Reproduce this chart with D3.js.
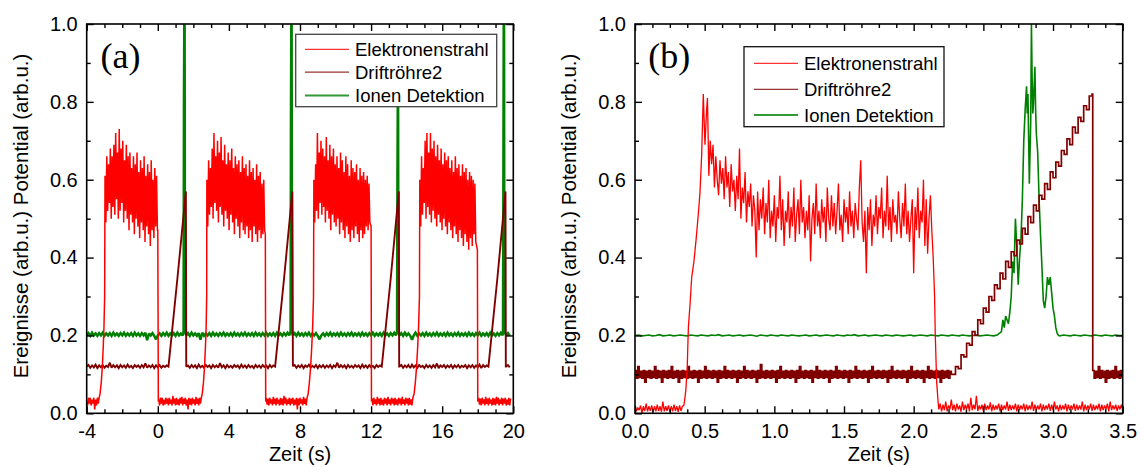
<!DOCTYPE html>
<html>
<head>
<meta charset="utf-8">
<script src="https://cdn.jsdelivr.net/npm/d3@7"></script>
<style>
  body { margin: 0; background: #fff; }
  text { font-family: "Liberation Sans", Arial, Helvetica, sans-serif; fill: #000; }
</style>
</head>
<body>
<svg id="chart" width="1141" height="467"></svg>
<script>
// ---------------------------------------------------------------
// Series names and tick values
// ---------------------------------------------------------------
const seriesNames = ["Elektronenstrahl", "Driftröhre2", "Ionen Detektion"];

const yTickVals  = [0, 0.2, 0.4, 0.6, 0.8, 1.0];
const yMinorVals = [0.1, 0.3, 0.5, 0.7, 0.9];
const aXTickVals  = [-4, 0, 4, 8, 12, 16, 20];
const aXMinorVals = [-3, -2, -1, 1, 2, 3, 5, 6, 7, 9, 10, 11, 13, 14, 15, 17, 18, 19];
const bXTickVals  = [0, 0.5, 1.0, 1.5, 2.0, 2.5, 3.0, 3.5];
const bXMinorVals = [0.125, 0.25, 0.375, 0.625, 0.75, 0.875, 1.125, 1.25, 1.375,
                     1.625, 1.75, 1.875, 2.125, 2.25, 2.375, 2.625, 2.75, 2.875,
                     3.125, 3.25, 3.375];

// ---------------------------------------------------------------
// Panel (a): repeated cycles, time -4 .. 20 s
// ---------------------------------------------------------------
// Elektronenstrahl: low level between pulses (sampled every 0.05 s)
const aElekLow1 = [0.03,0.02,0.04,0.025,0.04,0.02,0.035,0.025,0.04,0.01,0.035,0.02,0.04,0.025,0.04];
const aElekLow2 = [
  0.035,0.02,0.04,0.025,0.04,0.02,0.035,0.022,0.04,0.025,
  0.038,0.02,0.04,0.024,0.035,0.02,0.045,0.025,0.038,0.02,
  0.04,0.022,0.036,0.02,0.04,0.025,0.042,0.02,0.038,0.024,
  0.04,0.02,0.035,0.01,0.04,0.022,0.038,0.02,0.04,0.025,
  0.036,0.02,0.042,0.024,0.038,0.02,0.04,0.025,0.04];
const aElekLow3 = [
  0.04,0.022,0.038,0.02,0.04,0.025,0.036,0.02,0.042,0.024,
  0.038,0.02,0.04,0.025,0.035,0.02,0.04,0.022,0.038,0.02,
  0.045,0.025,0.04,0.02,0.036,0.024,0.04,0.02,0.038,0.025,
  0.04,0.02,0.035,0.022,0.04,0.01,0.038,0.02,0.04,0.025,
  0.036,0.02,0.042,0.024,0.038,0.02,0.04];
const aElekLow4 = [
  0.038,0.02,0.04,0.024,0.036,0.02,0.042,0.025,0.038,0.02,
  0.04,0.022,0.035,0.02,0.04,0.025,0.038,0.02,0.042,0.024,
  0.036,0.02,0.04,0.025,0.038,0.02,0.04,0.022,0.036,0.02,
  0.04,0.025,0.038,0.02,0.042,0.024,0.036,0.02,0.04,0.025,
  0.038,0.02,0.04,0.022,0.036,0.02,0.04];
const aElekLow5 = [
  0.04,0.022,0.038,0.02,0.04,0.025,0.036,0.02,0.042,0.024,
  0.038,0.02,0.04,0.025,0.035,0.02,0.04,0.022,0.038,0.02,
  0.042,0.025,0.04,0.02,0.036,0.024,0.04,0.02,0.038,0.025,
  0.04,0.02,0.035,0.022,0.04,0.02,0.038];
// rising and falling edges [t, v]
const aElekRise1 = [[-3.25,0.05],[-3.18,0.08],[-3.12,0.12],[-3.07,0.17],[-3.03,0.22],[-2.99,0.3]];
const aElekRise2 = [[2.5,0.05],[2.57,0.08],[2.63,0.12],[2.68,0.17],[2.72,0.22],[2.75,0.3]];
const aElekRise3 = [[8.46,0.05],[8.53,0.08],[8.6,0.12],[8.66,0.17],[8.71,0.22],[8.76,0.3]];
const aElekRise4 = [[14.42,0.05],[14.49,0.08],[14.56,0.12],[14.62,0.17],[14.67,0.22],[14.72,0.3]];
const aElekFall1 = [[0.0,0.47],[0.03,0.03]];
const aElekFall2 = [[6.05,0.46],[6.07,0.03]];
const aElekFall3 = [[12.0,0.48],[12.02,0.03]];
const aElekFall4 = [[17.98,0.42],[18.0,0.03]];
// pulse plateaus: alternating upper / lower excursions (every 0.05 s)
const aElekHi1 = [0.61,0.66,0.64,0.68,0.66,0.69,0.72,0.67,0.73,0.68,0.70,0.65,0.69,0.66,0.67,0.63,0.66,0.64,0.67,0.62,0.65,0.63,0.66,0.61,0.64,0.62,0.65,0.60,0.63,0.61];
const aElekLo1 = [0.49,0.52,0.54,0.50,0.53,0.51,0.55,0.50,0.52,0.54,0.49,0.52,0.50,0.47,0.51,0.49,0.46,0.50,0.48,0.45,0.49,0.47,0.44,0.48,0.46,0.43,0.47,0.45,0.48,0.47];
const aElekHi2 = [0.60,0.65,0.63,0.68,0.72,0.66,0.70,0.67,0.71,0.65,0.69,0.64,0.67,0.65,0.68,0.63,0.66,0.64,0.65,0.62,0.66,0.63,0.64,0.61,0.65,0.62,0.63,0.60,0.64,0.61,0.62,0.59,0.60];
const aElekLo2 = [0.48,0.51,0.53,0.50,0.54,0.52,0.49,0.53,0.51,0.48,0.52,0.50,0.47,0.51,0.49,0.46,0.50,0.48,0.45,0.49,0.47,0.46,0.48,0.45,0.47,0.44,0.48,0.46,0.44,0.47,0.45,0.46,0.47];
const aElekHi3 = [0.60,0.64,0.72,0.67,0.70,0.68,0.66,0.71,0.65,0.69,0.66,0.68,0.64,0.66,0.63,0.67,0.65,0.62,0.66,0.64,0.61,0.65,0.63,0.62,0.64,0.60,0.63,0.61,0.62,0.60,0.61,0.59];
const aElekLo3 = [0.49,0.52,0.50,0.54,0.51,0.53,0.49,0.52,0.50,0.47,0.51,0.49,0.48,0.50,0.46,0.49,0.47,0.45,0.48,0.46,0.44,0.47,0.45,0.48,0.46,0.44,0.47,0.45,0.46,0.48,0.47,0.49];
const aElekHi4 = [0.60,0.66,0.63,0.70,0.72,0.67,0.72,0.68,0.70,0.66,0.69,0.65,0.68,0.64,0.67,0.65,0.66,0.63,0.65,0.62,0.66,0.63,0.64,0.61,0.64,0.62,0.63,0.60,0.62,0.61,0.60,0.59];
const aElekLo4 = [0.48,0.51,0.54,0.50,0.53,0.51,0.49,0.52,0.50,0.48,0.51,0.49,0.47,0.50,0.48,0.46,0.49,0.47,0.45,0.48,0.46,0.44,0.47,0.45,0.43,0.46,0.44,0.42,0.45,0.43,0.46,0.44];

// Driftröhre2: resting level (every 0.1 s) and ramps [t, v]
const aDriftBase1 = [
  0.12,0.124,0.117,0.123,0.118,0.125,0.116,0.123,0.118,0.124,
  0.117,0.122,0.119,0.13,0.117,0.124,0.118,0.123,0.116,0.124,
  0.118,0.123,0.117,0.125,0.118,0.122,0.116,0.124,0.119,0.123,
  0.117,0.124,0.118,0.128,0.117,0.123,0.118,0.124,0.116,0.123,
  0.118,0.124,0.117,0.122,0.119,0.123,0.12];
const aDriftBase2 = [
  0.12,0.123,0.117,0.124,0.118,0.123,0.116,0.125,0.118,0.122,
  0.117,0.124,0.119,0.123,0.116,0.124,0.118,0.123,0.117,0.129,
  0.118,0.123,0.116,0.124,0.118,0.122,0.117,0.124,0.119,0.123,
  0.116,0.125,0.118,0.123,0.117,0.124,0.118,0.122,0.116,0.124,
  0.118,0.123,0.117,0.124,0.119,0.123,0.116,0.124,0.118,0.123,0.12];
const aDriftBase3 = [
  0.121,0.124,0.117,0.123,0.118,0.124,0.116,0.123,0.119,0.125,
  0.117,0.122,0.118,0.124,0.116,0.123,0.118,0.124,0.117,0.123,
  0.118,0.124,0.116,0.123,0.119,0.13,0.117,0.124,0.118,0.123,
  0.116,0.124,0.118,0.122,0.117,0.124,0.119,0.123,0.116,0.125,
  0.118,0.123,0.117,0.124,0.118,0.122,0.116,0.124,0.119,0.123,0.12];
const aDriftBase4 = [
  0.12,0.124,0.117,0.123,0.118,0.124,0.116,0.125,0.118,0.123,
  0.117,0.124,0.119,0.122,0.116,0.124,0.118,0.123,0.117,0.124,
  0.118,0.128,0.116,0.123,0.119,0.124,0.117,0.123,0.118,0.124,
  0.116,0.123,0.118,0.124,0.117,0.122,0.119,0.124,0.116,0.123,
  0.118,0.124,0.117,0.123,0.118,0.125,0.116,0.124,0.119,0.123,0.12];
const aDriftBase5 = [0.12,0.124,0.118];
const aDriftRamp1 = [[0.6,0.12],[1.1,0.345],[1.58,0.57],[1.6,0.12]];
const aDriftRamp2 = [[6.6,0.12],[7.1,0.345],[7.57,0.57],[7.6,0.12]];
const aDriftRamp3 = [[12.6,0.12],[13.1,0.345],[13.56,0.57],[13.58,0.12]];
const aDriftRamp4 = [[18.6,0.12],[19.1,0.345],[19.56,0.57],[19.58,0.12]];

// Ionen Detektion: baseline (every 0.1 s) and detection spikes [t, v]
const aIonBase1 = [
  0.2,0.206,0.199,0.207,0.2,0.205,0.199,0.206,0.2,0.207,
  0.199,0.205,0.2,0.206,0.199,0.207,0.2,0.205,0.199,0.206,
  0.2,0.207,0.199,0.205,0.2,0.206,0.199,0.207,0.2,0.205,
  0.199,0.206,0.2,0.207,0.188,0.205,0.2,0.206,0.199,0.19,
  0.2,0.205,0.199,0.206,0.2,0.207,0.199,0.205,0.2,0.206,
  0.199,0.207,0.2,0.205,0.2];
const aIonBase2 = [
  0.2,0.206,0.199,0.207,0.2,0.205,0.199,0.206,0.189,0.207,
  0.199,0.205,0.2,0.206,0.199,0.207,0.2,0.205,0.199,0.206,
  0.2,0.207,0.199,0.205,0.2,0.206,0.199,0.207,0.2,0.205,
  0.199,0.206,0.2,0.207,0.199,0.205,0.2,0.206,0.199,0.207,
  0.2,0.205,0.199,0.206,0.2,0.207,0.199,0.205,0.2,0.206,
  0.199,0.207,0.2,0.205,0.199,0.206,0.2,0.207,0.2];
const aIonBase3 = [
  0.2,0.206,0.199,0.207,0.2,0.205,0.199,0.206,0.2,0.207,
  0.199,0.205,0.2,0.206,0.199,0.19,0.2,0.205,0.199,0.206,
  0.2,0.207,0.199,0.205,0.2,0.206,0.199,0.207,0.2,0.205,
  0.199,0.206,0.2,0.207,0.199,0.205,0.2,0.206,0.199,0.207,
  0.2,0.205,0.199,0.206,0.2,0.207,0.199,0.205,0.2,0.206,
  0.199,0.207,0.2,0.205,0.199,0.206,0.2,0.207,0.2];
const aIonBase4 = [
  0.2,0.206,0.199,0.207,0.2,0.205,0.199,0.189,0.2,0.207,
  0.199,0.205,0.2,0.206,0.199,0.207,0.2,0.205,0.199,0.206,
  0.2,0.207,0.199,0.205,0.2,0.206,0.199,0.207,0.2,0.205,
  0.199,0.206,0.2,0.207,0.199,0.205,0.2,0.206,0.199,0.207,
  0.2,0.205,0.199,0.206,0.2,0.207,0.199,0.205,0.2,0.206,
  0.199,0.207,0.2,0.205,0.199,0.206,0.2,0.207,0.2];
const aIonBase5 = [0.2,0.206,0.2];
const aIonSpike1 = [[1.45,0.21],[1.47,0.8],[1.49,1.0],[1.51,1.0],[1.53,0.21]];
const aIonSpike2 = [[7.47,0.21],[7.49,0.75],[7.51,1.0],[7.53,1.0],[7.55,0.21]];
const aIonSpike3 = [[13.46,0.21],[13.48,0.6],[13.5,0.79],[13.52,0.79],[13.54,0.21]];
const aIonSpike4 = [[19.42,0.21],[19.44,0.57],[19.46,1.0],[19.48,1.0],[19.5,0.21]];

// ---------------------------------------------------------------
// Panel (b): single cycle, time 0 .. 3.5 s
// ---------------------------------------------------------------
// Elektronenstrahl
const bElekLowStart = [0.02,0.005,0.015,0.008,0.02,0.0,0.018,0.006,0.025,0.005,0.018,0.006,0.02,0.004,0.018,0.005,0.022,0.006,0.018,0.004,0.03,0.005,0.018,0.006,0.02,0.004,0.018,0.005,0.022,0.006,0.018,0.004,0.02,0.006,0.018,0.02];
const bElekRise = [[0.355,0.03],[0.365,0.06],[0.375,0.12],[0.383,0.22],[0.395,0.28],[0.407,0.35],[0.423,0.39],[0.438,0.445],[0.454,0.51],[0.466,0.565],[0.478,0.66],[0.49,0.82],[0.502,0.69],[0.514,0.78],[0.52,0.81]];
const bElekPlateau = [
  0.61,0.70,0.64,0.69,0.58,0.66,0.60,0.56,0.65,0.59,
  0.63,0.55,0.66,0.58,0.62,0.53,0.64,0.57,0.60,0.52,
  0.61,0.55,0.68,0.50,0.58,0.54,0.62,0.49,0.57,0.53,
  0.59,0.48,0.56,0.52,0.40,0.57,0.47,0.55,0.50,0.58,
  0.46,0.54,0.49,0.60,0.45,0.52,0.48,0.56,0.44,0.53,
  0.50,0.61,0.47,0.55,0.43,0.52,0.49,0.57,0.45,0.53,
  0.48,0.58,0.44,0.51,0.55,0.46,0.60,0.49,0.53,0.45,
  0.52,0.47,0.56,0.39,0.50,0.54,0.46,0.59,0.48,0.52,
  0.45,0.55,0.49,0.53,0.44,0.58,0.50,0.47,0.56,0.48,
  0.54,0.46,0.52,0.59,0.47,0.51,0.44,0.55,0.49,0.53,
  0.46,0.57,0.48,0.52,0.45,0.54,0.50,0.47,0.58,0.65,
  0.49,0.44,0.52,0.36,0.53,0.47,0.55,0.43,0.51,0.48,
  0.56,0.46,0.53,0.50,0.58,0.45,0.52,0.48,0.61,0.47,
  0.53,0.44,0.55,0.49,0.51,0.46,0.57,0.50,0.45,0.54,
  0.48,0.59,0.46,0.52,0.44,0.50,0.55,0.36,0.53,0.47,
  0.58,0.45,0.52,0.49,0.60,0.43,0.55,0.41,0.50,0.56,
  0.47];
const bElekFall = [[2.14,0.40],[2.15,0.30],[2.155,0.2],[2.165,0.08],[2.175,0.03]];
const bElekLowEnd = [
  0.01,0.025,0.005,0.022,0.008,0.03,0.005,0.02,0.01,0.035,
  0.008,0.022,0.005,0.025,0.01,0.02,0.004,0.03,0.008,0.022,
  0.01,0.025,0.005,0.04,0.008,0.022,0.01,0.045,0.006,0.02,
  0.01,0.022,0.005,0.025,0.008,0.02,0.01,0.028,0.005,0.022,
  0.008,0.02,0.01,0.025,0.005,0.022,0.008,0.02,0.01,0.03,
  0.006,0.022,0.008,0.02,0.01,0.025,0.005,0.022,0.008,0.02,
  0.01,0.025,0.005,0.022,0.008,0.02,0.01,0.03,0.006,0.022,
  0.008,0.02,0.01,0.025,0.005,0.022,0.008,0.02,0.01,0.025,
  0.006,0.022,0.008,0.03,0.01,0.02,0.005,0.022,0.008,0.02,
  0.01,0.025,0.005,0.022,0.008,0.02,0.01,0.025,0.006,0.022,
  0.008,0.02,0.01,0.03,0.005,0.022,0.008,0.02,0.01,0.025,
  0.006,0.022,0.008,0.02,0.01,0.025,0.005,0.022,0.008,0.02,
  0.01,0.025,0.005,0.03,0.008,0.02,0.01,0.022,0.006,0.02,
  0.01,0.022,0.008];

// Driftröhre2 (sampled every 0.01 s at rest, 0.02 s along the ramp)
const bDriftBase = [
  0.11,0.09,0.12,0.092,0.108,0.09,0.11,0.08,0.108,0.092,
  0.11,0.09,0.108,0.092,0.12,0.09,0.11,0.092,0.108,0.08,
  0.11,0.092,0.108,0.09,0.11,0.092,0.12,0.09,0.108,0.092,
  0.11,0.08,0.108,0.09,0.11,0.092,0.108,0.09,0.12,0.092,
  0.108,0.09,0.11,0.092,0.108,0.08,0.11,0.09,0.108,0.092,
  0.12,0.09,0.11,0.092,0.108,0.09,0.11,0.092,0.108,0.08,
  0.11,0.09,0.108,0.092,0.12,0.09,0.11,0.092,0.108,0.09,
  0.11,0.092,0.108,0.08,0.11,0.09,0.108,0.092,0.12,0.09,
  0.11,0.092,0.108,0.09,0.11,0.092,0.108,0.08,0.11,0.09,
  0.125,0.092,0.108,0.09,0.11,0.092,0.108,0.09,0.11,0.092,
  0.108,0.08,0.11,0.09,0.12,0.092,0.108,0.09,0.11,0.092,
  0.108,0.09,0.11,0.092,0.108,0.08,0.11,0.09,0.12,0.092,
  0.108,0.09,0.11,0.092,0.108,0.09,0.11,0.08,0.108,0.092,
  0.12,0.09,0.11,0.092,0.108,0.09,0.11,0.092,0.108,0.08,
  0.11,0.09,0.108,0.092,0.12,0.09,0.11,0.092,0.108,0.09,
  0.11,0.092,0.108,0.08,0.11,0.09,0.108,0.092,0.12,0.09,
  0.11,0.092,0.108,0.09,0.11,0.092,0.108,0.08,0.11,0.09,
  0.12,0.092,0.108,0.09,0.11,0.092,0.108,0.09,0.11,0.092,
  0.108,0.08,0.11,0.09,0.12,0.092,0.108,0.09,0.11,0.092,
  0.108,0.09,0.11,0.092,0.108,0.08,0.11,0.09,0.12,0.092,
  0.108,0.09,0.11,0.092,0.108,0.09,0.11,0.08,0.108,0.092,
  0.12,0.09,0.11,0.092,0.108,0.09,0.11,0.092,0.108,0.08,
  0.11,0.09,0.108,0.092,0.11,0.09,0.108,0.1];
const bDriftRamp = [
  0.10,0.12,0.115,0.15,0.145,0.18,0.175,0.21,0.20,0.24,
  0.23,0.27,0.26,0.30,0.29,0.33,0.32,0.36,0.345,0.39,
  0.375,0.415,0.405,0.445,0.435,0.475,0.46,0.505,0.49,0.535,
  0.52,0.56,0.55,0.59,0.575,0.62,0.605,0.645,0.635,0.675,
  0.665,0.705,0.69,0.735,0.72,0.76,0.75,0.79,0.78,0.815,
  0.82];
const bDriftBaseEnd = [0.11,0.09,0.108,0.092,0.12,0.09,0.11,0.092,0.108,0.08,0.11,0.09,0.108,0.092,0.11,0.09,0.12,0.092,0.108,0.09,0.11,0.092];

// Ionen Detektion (baseline every 0.025 s)
const bIonBase = [
  0.2,0.201,0.199,0.2,0.201,0.199,0.2,0.202,0.199,0.2,
  0.201,0.199,0.2,0.201,0.2,0.199,0.201,0.2,0.199,0.201,
  0.2,0.199,0.201,0.2,0.202,0.199,0.2,0.201,0.199,0.2,
  0.201,0.199,0.2,0.201,0.2,0.198,0.201,0.2,0.199,0.201,
  0.2,0.199,0.201,0.2,0.199,0.201,0.2,0.199,0.2,0.201,
  0.199,0.2,0.201,0.199,0.2,0.201,0.2,0.199,0.201,0.2,
  0.199,0.201,0.2,0.202,0.199,0.2,0.201,0.199,0.2,0.201,
  0.2,0.199,0.201,0.2,0.199,0.201,0.2,0.199,0.2,0.201,
  0.199,0.2,0.201,0.2,0.199,0.201,0.2,0.199,0.201,0.2,
  0.199,0.201,0.2,0.199,0.201,0.2,0.199,0.2,0.201,0.199,
  0.2,0.201,0.2,0.199,0.201];
const bIonPeak = [[2.63,0.21],[2.64,0.24],[2.65,0.22],[2.66,0.25],[2.68,0.23],[2.69,0.26],[2.7,0.3],[2.71,0.39],[2.72,0.36],[2.73,0.5],[2.74,0.43],[2.75,0.33],[2.76,0.4],[2.77,0.45],[2.78,0.55],[2.79,0.7],[2.8,0.78],[2.81,0.84],[2.815,0.77],[2.82,0.82],[2.83,0.59],[2.84,0.75],[2.845,1.0],[2.85,0.86],[2.855,0.77],[2.86,0.8],[2.87,0.89],[2.875,0.78],[2.88,0.72],[2.89,0.67],[2.9,0.55],[2.91,0.46],[2.92,0.38],[2.93,0.29],[2.94,0.27],[2.95,0.3],[2.96,0.35],[2.97,0.33],[2.98,0.35],[2.99,0.31],[3.0,0.27],[3.01,0.25],[3.02,0.22],[3.03,0.205],[3.04,0.2]];
const bIonBaseEnd = [0.199,0.201,0.2,0.199,0.201,0.2,0.199,0.201,0.2,0.199,0.201,0.2,0.199,0.201,0.2,0.199,0.201,0.2,0.2];

// ---------------------------------------------------------------
// Helpers to lay sampled values on their time grid
// ---------------------------------------------------------------
function run(t0, dt, values) {
  return values.map((v, i) => [+(t0 + i * dt).toFixed(4), v]);
}
function interleave(hi, lo) {
  const out = [];
  hi.forEach((h, i) => { out.push(h); if (i < lo.length) out.push(lo[i]); });
  return out;
}

const aElek = [].concat(
  run(-4.0, 0.05, aElekLow1), aElekRise1, run(-2.97, 0.05, interleave(aElekHi1, aElekLo1)), aElekFall1,
  run(0.05, 0.05, aElekLow2), aElekRise2, run(2.76, 0.05, interleave(aElekHi2, aElekLo2)), aElekFall2,
  run(6.1, 0.05, aElekLow3), aElekRise3, run(8.78, 0.05, interleave(aElekHi3, aElekLo3)), aElekFall3,
  run(12.05, 0.05, aElekLow4), aElekRise4, run(14.74, 0.05, interleave(aElekHi4, aElekLo4)), aElekFall4,
  run(18.05, 0.05, aElekLow5)
);
const aDrift = [].concat(
  run(-4.0, 0.1, aDriftBase1), aDriftRamp1,
  run(1.6, 0.1, aDriftBase2), aDriftRamp2,
  run(7.6, 0.1, aDriftBase3), aDriftRamp3,
  run(13.6, 0.1, aDriftBase4), aDriftRamp4,
  run(19.6, 0.1, aDriftBase5)
);
const aIon = [].concat(
  run(-4.0, 0.1, aIonBase1), aIonSpike1,
  run(1.6, 0.1, aIonBase2), aIonSpike2,
  run(7.6, 0.1, aIonBase3), aIonSpike3,
  run(13.6, 0.1, aIonBase4), aIonSpike4,
  run(19.6, 0.1, aIonBase5)
);
const bElek = [].concat(
  run(0, 0.01, bElekLowStart), bElekRise, run(0.53, 0.01, bElekPlateau),
  bElekFall, run(2.18, 0.01, bElekLowEnd)
);
const bDrift = [].concat(
  run(0, 0.01, bDriftBase), run(2.28, 0.02, bDriftRamp), run(3.285, 0.01, bDriftBaseEnd)
);
const bIon = [].concat(
  run(0, 0.025, bIonBase), bIonPeak, run(3.05, 0.025, bIonBaseEnd)
);

// ---------------------------------------------------------------
// Styling and layout
// ---------------------------------------------------------------
const colors = { elek: "#ff0000", drift: "#800000", ion: "#008000" };
const plotTop = 24, plotBottom = 413.3;

const panels = [
  {
    id: "a", tag: "(a)", left: 86.7, right: 513.3, domain: [-4, 20],
    ticks: aXTickVals, minor: aXMinorVals, fmt: d => String(d),
    tagX: 100.5, yTitleX: 27.5,
    series: [
      { data: aIon,   color: colors.ion,   width: 2.5, curve: d3.curveLinear },
      { data: aDrift, color: colors.drift, width: 1.9, curve: d3.curveLinear },
      { data: aElek,  color: colors.elek,  width: 1.5, curve: d3.curveLinear }
    ],
    legend: { x: 295.7, y: 34.3, w: 201, h: 72.4, lineX0: 305, lineX1: 349, textX: 355,
              rows: [49.3, 72.2, 95.5], border: "#444" }
  },
  {
    id: "b", tag: "(b)", left: 635, right: 1122.7, domain: [0, 3.5],
    ticks: bXTickVals, minor: bXMinorVals, fmt: d3.format(".1f"),
    tagX: 648.2, yTitleX: 575.5,
    series: [
      { data: bIon,   color: colors.ion,   width: 1.6, curve: d3.curveLinear },
      { data: bDrift, color: colors.drift, width: 1.7, curve: d3.curveStepAfter },
      { data: bElek,  color: colors.elek,  width: 1.3, curve: d3.curveLinear }
    ],
    legend: { x: 744, y: 46.7, w: 200, h: 80, lineX0: 754, lineX1: 798, textX: 804,
              rows: [63.3, 89.3, 115], border: "#111" }
  }
];

const svg = d3.select("#chart");
svg.append("rect").attr("width", 1141).attr("height", 467).attr("fill", "#fff");

panels.forEach(p => {
  const x = d3.scaleLinear().domain(p.domain).range([p.left, p.right]);
  const y = d3.scaleLinear().domain([0, 1]).range([plotBottom, plotTop]);
  const g = svg.append("g").attr("class", "panel-" + p.id);

  g.append("clipPath").attr("id", "clip-" + p.id)
    .append("rect")
    .attr("x", p.left).attr("y", plotTop)
    .attr("width", p.right - p.left).attr("height", plotBottom - plotTop);

  // data traces
  const traces = g.append("g").attr("clip-path", `url(#clip-${p.id})`);
  p.series.forEach(s => {
    const line = d3.line().x(d => x(d[0])).y(d => y(d[1])).curve(s.curve);
    traces.append("path")
      .datum(s.data)
      .attr("d", line)
      .attr("fill", "none")
      .attr("stroke", s.color)
      .attr("stroke-width", s.width)
      .attr("stroke-linejoin", "miter")
      .attr("stroke-miterlimit", 2);
  });

  // axes: inward ticks on all four sides
  const styleAxis = sel => {
    sel.select(".domain").remove();
    sel.selectAll(".tick line").attr("stroke", "#000").attr("stroke-width", 1.4);
    sel.selectAll(".tick text").style("font-size", "20px")
      .style("font-family", '"Liberation Sans", Arial, sans-serif').attr("fill", "#000");
  };

  g.append("g").attr("transform", `translate(0,${plotBottom})`)
    .call(d3.axisBottom(x).tickValues(p.ticks).tickFormat(p.fmt).tickSize(-7).tickPadding(11))
    .call(styleAxis);
  g.append("g").attr("transform", `translate(0,${plotBottom})`)
    .call(d3.axisBottom(x).tickValues(p.minor).tickFormat("").tickSize(-4))
    .call(styleAxis);
  g.append("g").attr("transform", `translate(0,${plotTop})`)
    .call(d3.axisTop(x).tickValues(p.ticks).tickFormat("").tickSize(-7))
    .call(styleAxis);
  g.append("g").attr("transform", `translate(0,${plotTop})`)
    .call(d3.axisTop(x).tickValues(p.minor).tickFormat("").tickSize(-4))
    .call(styleAxis);

  g.append("g").attr("transform", `translate(${p.left},0)`)
    .call(d3.axisLeft(y).tickValues(yTickVals).tickFormat(d3.format(".1f")).tickSize(-7).tickPadding(9))
    .call(styleAxis);
  g.append("g").attr("transform", `translate(${p.left},0)`)
    .call(d3.axisLeft(y).tickValues(yMinorVals).tickFormat("").tickSize(-4))
    .call(styleAxis);
  g.append("g").attr("transform", `translate(${p.right},0)`)
    .call(d3.axisRight(y).tickValues(yTickVals).tickFormat("").tickSize(-7))
    .call(styleAxis);
  g.append("g").attr("transform", `translate(${p.right},0)`)
    .call(d3.axisRight(y).tickValues(yMinorVals).tickFormat("").tickSize(-4))
    .call(styleAxis);

  // frame
  g.append("rect")
    .attr("x", p.left).attr("y", plotTop)
    .attr("width", p.right - p.left).attr("height", plotBottom - plotTop)
    .attr("fill", "none").attr("stroke", "#000").attr("stroke-width", 1.6);

  // axis titles
  g.append("text")
    .attr("x", (p.left + p.right) / 2).attr("y", 461)
    .attr("text-anchor", "middle").style("font-size", "20px")
    .text("Zeit (s)");
  g.append("text")
    .attr("transform", `translate(${p.yTitleX},216) rotate(-90)`)
    .attr("text-anchor", "middle").style("font-size", "20.5px")
    .text("Ereignisse (arb.u.) Potential (arb.u.)");

  // panel tag
  g.append("text")
    .attr("x", p.tagX).attr("y", 67.5)
    .style("font-family", '"Liberation Serif", "Times New Roman", serif')
    .style("font-size", "36px")
    .text(p.tag);

  // legend
  const L = p.legend;
  const lg = g.append("g").attr("class", "legend");
  lg.append("rect")
    .attr("x", L.x).attr("y", L.y).attr("width", L.w).attr("height", L.h)
    .attr("fill", "#fff").attr("stroke", L.border).attr("stroke-width", 1.3);
  const legendColors = [colors.elek, colors.drift, colors.ion];
  const legendWidths = [1.2, 1.2, 1.8];
  seriesNames.forEach((name, i) => {
    lg.append("line")
      .attr("x1", L.lineX0).attr("x2", L.lineX1)
      .attr("y1", L.rows[i]).attr("y2", L.rows[i])
      .attr("stroke", legendColors[i]).attr("stroke-width", legendWidths[i])
      .attr("stroke-opacity", 0.8);
    lg.append("text")
      .attr("x", L.textX).attr("y", L.rows[i] + 6.6)
      .style("font-size", "18.5px")
      .text(name);
  });
});
</script>
</body>
</html>
